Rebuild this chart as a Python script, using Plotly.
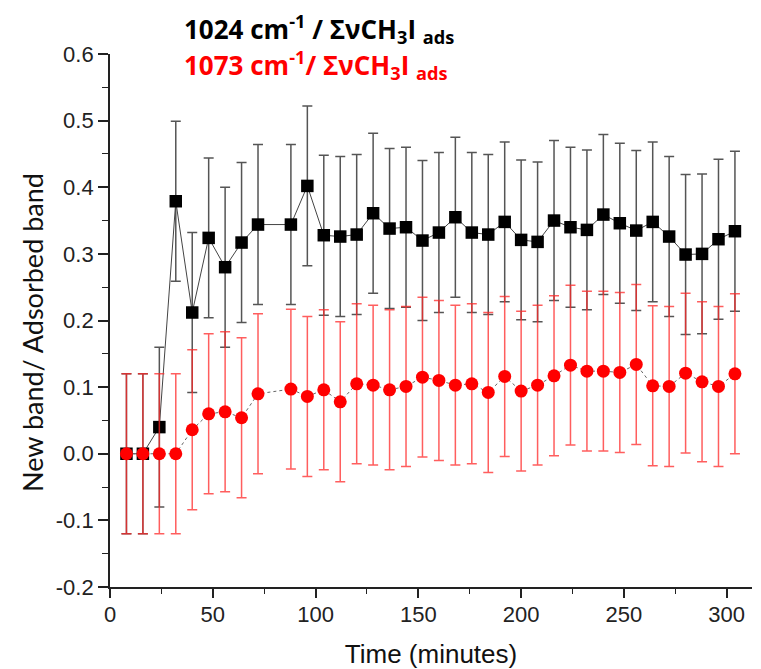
import plotly.graph_objects as go

time_min = [8, 16, 24, 32, 40, 48, 56, 64, 72, 88, 96, 104, 112, 120, 128, 136, 144, 152,
            160, 168, 176, 184, 192, 200, 208, 216, 224, 232, 240, 248, 256, 264, 272, 280,
            288, 296, 304]
band_1024 = [0.0, 0.0, 0.040, 0.379, 0.212, 0.324, 0.280, 0.317, 0.344, 0.344, 0.402, 0.328,
             0.326, 0.329, 0.361, 0.338, 0.340, 0.320, 0.332, 0.355, 0.332, 0.329, 0.348,
             0.321, 0.318, 0.350, 0.340, 0.336, 0.359, 0.346, 0.335, 0.348, 0.326, 0.299,
             0.300, 0.322, 0.334]
err_1024 = [0.12] * len(time_min)
band_1073 = [0.0, 0.0, 0.0, 0.0, 0.036, 0.060, 0.063, 0.054, 0.090, 0.097, 0.086, 0.096,
             0.078, 0.105, 0.103, 0.096, 0.101, 0.115, 0.110, 0.103, 0.105, 0.092, 0.116,
             0.094, 0.103, 0.117, 0.133, 0.124, 0.124, 0.122, 0.134, 0.102, 0.101, 0.121,
             0.108, 0.101, 0.120]
err_1073 = [0.12] * len(time_min)

x_ticks = [0, 50, 100, 150, 200, 250, 300]
y_ticks = [-0.2, -0.1, 0.0, 0.1, 0.2, 0.3, 0.4, 0.5, 0.6]
y_tick_text = ["-0.2", "-0.1", "0.0", "0.1", "0.2", "0.3", "0.4", "0.5", "0.6"]

# page body has an 8px margin; figure is offset by it (left/top)
OFF = 8
L, R, T, B = 110 - OFF, 9, 54 - OFF, 82
W, H = 761 - OFF, 669 - OFF
PW, PH = W - L - R, H - T - B


def px_x(sx):
    return (sx - OFF - L) / PW


def px_y(sy):
    return 1 + (T - (sy - OFF)) / PH


fig = go.Figure()
fig.add_trace(go.Scatter(
    x=time_min, y=band_1024, mode="lines+markers",
    line=dict(color="#444444", width=1),
    marker=dict(symbol="square", size=12.5, color="black"),
    error_y=dict(type="data", array=err_1024, visible=True, color="#555555",
                 thickness=1.5, width=5),
    showlegend=False))
fig.add_trace(go.Scatter(
    x=time_min, y=band_1073, mode="lines+markers",
    line=dict(color="#666666", width=1, dash="dot"),
    marker=dict(symbol="circle", size=13, color="#ff0000"),
    error_y=dict(type="data", array=err_1073, visible=True, color="rgba(255,40,40,0.75)",
                 thickness=1.5, width=5),
    showlegend=False))

tick_font = dict(family="Liberation Sans, Arial, sans-serif", size=22, color="#222222")
fig.update_layout(
    width=W, height=H,
    margin=dict(l=L, r=R, t=T, b=B),
    plot_bgcolor="white", paper_bgcolor="white",
    xaxis=dict(range=[0, 312.3], tickvals=x_ticks, ticks="outside", ticklen=9, tickwidth=1.5,
               tickcolor="#222", showline=True, linecolor="#222", linewidth=1.8,
               showgrid=False, zeroline=False, tickfont=tick_font, automargin=False,
               ticklabelstandoff=-2,
               minor=dict(dtick=25, tick0=0, ticks="outside", ticklen=5, tickwidth=1.3,
                          tickcolor="#222"),
               title=dict(text="Time (minutes)", standoff=23,
                          font=dict(family="Liberation Sans, Arial, sans-serif", size=26,
                                    color="#111"))),
    yaxis=dict(range=[-0.2, 0.6], tickvals=y_ticks, ticktext=y_tick_text, ticks="outside",
               ticklen=10, tickwidth=1.5, tickcolor="#222", showline=True, linecolor="#222",
               linewidth=1.8, showgrid=False, zeroline=False, tickfont=tick_font,
               automargin=False,
               minor=dict(dtick=0.05, tick0=0, ticks="outside", ticklen=6, tickwidth=1.3,
                          tickcolor="#222")),
)

# y-axis title (placed as rotated text to match the reference position)
fig.add_annotation(xref="paper", yref="paper", x=px_x(32), y=px_y(333),
                   xanchor="center", yanchor="middle", showarrow=False, textangle=-90,
                   text="New band/ Adsorbed band",
                   font=dict(family="Lato, Noto Sans, sans-serif", size=27, color="#111"))

leg_font = "Open Sans, Noto Sans, sans-serif"
fig.add_annotation(xref="paper", yref="paper", x=px_x(183), y=px_y(29),
                   xanchor="left", yanchor="middle", showarrow=False, borderpad=0,
                   text="<b>1024 cm<sup>-1</sup> / ΣνCH<sub>3</sub>I <sub>ads</sub></b>",
                   font=dict(family=leg_font, size=26, color="black"))
fig.add_annotation(xref="paper", yref="paper", x=px_x(183), y=px_y(65),
                   xanchor="left", yanchor="middle", showarrow=False, borderpad=0,
                   text="<b>1073 cm<sup>-1</sup>/ ΣνCH<sub>3</sub>I <sub>ads</sub></b>",
                   font=dict(family=leg_font, size=26, color="#ff0000"))

fig.write_html("out.html")
